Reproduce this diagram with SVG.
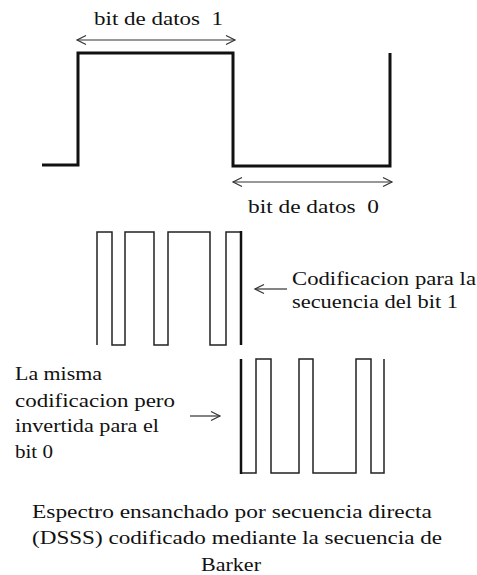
<svg xmlns="http://www.w3.org/2000/svg" width="477" height="575" viewBox="0 0 477 575">
<style>
text{font-size:18px;fill:#111;white-space:pre}
.wave{fill:none;stroke:#111;stroke-width:3;stroke-linejoin:miter}
.chip{fill:none;stroke:#222;stroke-width:1.5;stroke-linejoin:miter}
.thick{stroke:#111;stroke-width:2.5}
.arr{fill:none;stroke:#333;stroke-width:1.2}
</style>
<defs>
<marker id="head" markerUnits="userSpaceOnUse" markerWidth="12" markerHeight="12" refX="10" refY="6" orient="auto-start-reverse" viewBox="0 0 12 12">
<path d="M1,1.5 L10,6 L1,10.5" fill="none" stroke="#333" stroke-width="1.2"/>
</marker>
</defs>
<g id="signal">
<polyline class="wave" points="42,165 78,165 78,53 233,53 233,166 390,166 390,53"/>
</g>
<g id="code-bit1">
<path class="chip" d="M97,345 V232 H112 V345 H125 V232 H154 V345 H168 V232 H210 V345 H226 V232 H241"/>
<line class="thick" x1="241" y1="231" x2="241" y2="345"/>
</g>
<g id="code-bit0">
<path class="chip" d="M241,473 H256 V359 H271 V473 H299 V359 H313 V473 H356 V359 H371 V473 H384 V359"/>
<line class="thick" x1="241" y1="359" x2="241" y2="474"/>
</g>
<g id="connectors">
<line class="arr" x1="77" y1="40" x2="235" y2="40" marker-start="url(#head)" marker-end="url(#head)"/>
<line class="arr" x1="233" y1="182" x2="392" y2="182" marker-start="url(#head)" marker-end="url(#head)"/>
<line class="arr" x1="287" y1="289" x2="255" y2="289" marker-end="url(#head)"/>
<line class="arr" x1="190" y1="416" x2="220" y2="416" marker-end="url(#head)"/>
</g>
<g font-family="Liberation Serif, Tinos, Times New Roman, DejaVu Serif, serif">
<g id="label-bit1">
<text x="94" y="25" textLength="129" lengthAdjust="spacingAndGlyphs">bit de datos  1</text>
</g>
<g id="label-bit0">
<text x="248" y="213" textLength="131" lengthAdjust="spacingAndGlyphs">bit de datos  0</text>
</g>
<g id="label-code1">
<text x="292" y="285" textLength="184" lengthAdjust="spacingAndGlyphs">Codificacion para la</text>
<text x="292" y="308" textLength="166" lengthAdjust="spacingAndGlyphs">secuencia del bit 1</text>
</g>
<g id="label-code0">
<text x="15" y="380" textLength="87" lengthAdjust="spacingAndGlyphs">La misma</text>
<text x="15" y="407" textLength="160" lengthAdjust="spacingAndGlyphs">codificacion pero</text>
<text x="15" y="432" textLength="144" lengthAdjust="spacingAndGlyphs">invertida para el</text>
<text x="15" y="458" textLength="38" lengthAdjust="spacingAndGlyphs">bit 0</text>
</g>
<g id="caption">
<text x="32" y="518" textLength="400" lengthAdjust="spacingAndGlyphs">Espectro ensanchado por secuencia directa</text>
<text x="32" y="544" textLength="410" lengthAdjust="spacingAndGlyphs">(DSSS) codificado mediante la secuencia de</text>
<text x="201" y="571" textLength="60" lengthAdjust="spacingAndGlyphs">Barker</text>
</g>
</g>
</svg>
